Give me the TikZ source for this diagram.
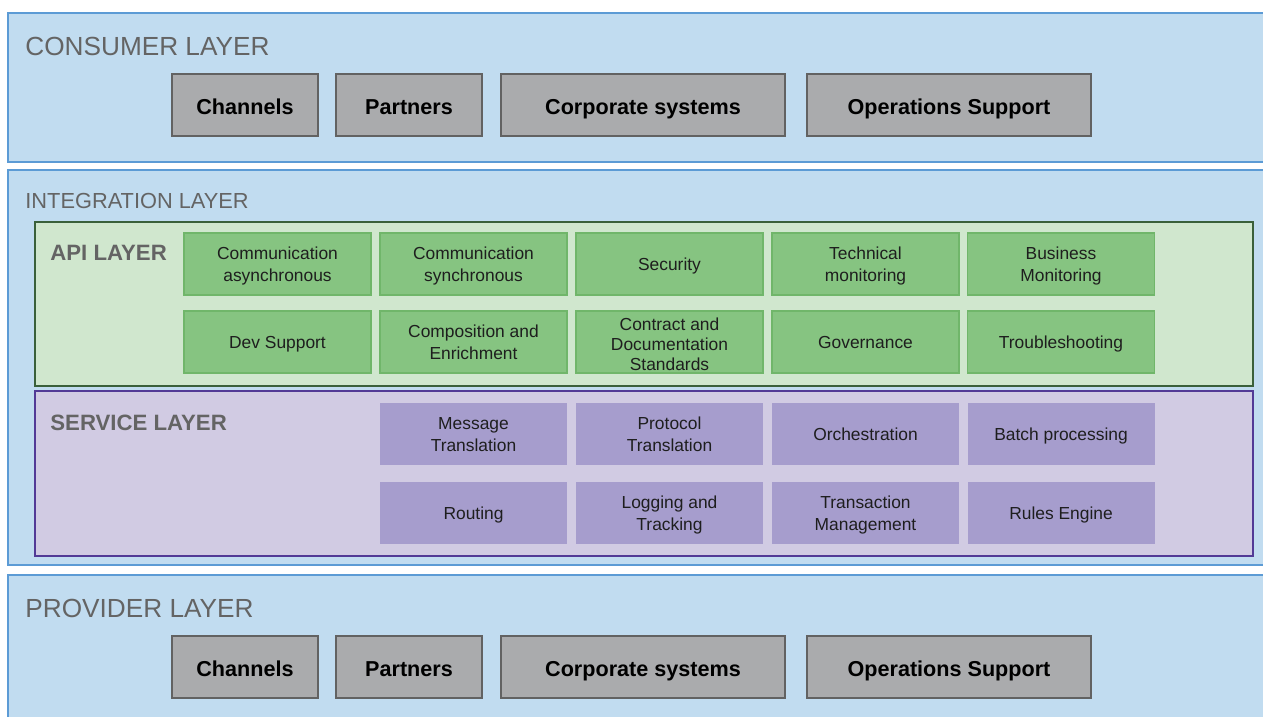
\documentclass[tikz,border=0pt]{standalone}
\usepackage{fontspec}
\setmainfont{Liberation Sans}
\usepackage{tikz}
\pgfdeclarelayer{panellayer}
\pgfdeclarelayer{nodelayer}
\pgfsetlayers{panellayer,nodelayer,main}
\definecolor{panelblue}{RGB}{193,220,240}
\definecolor{edgeblue}{RGB}{92,155,213}
\definecolor{apifill}{RGB}{208,231,206}
\definecolor{apiedge}{RGB}{58,96,58}
\definecolor{greenbox}{RGB}{134,196,129}
\definecolor{greenedge}{RGB}{112,182,106}
\definecolor{svcfill}{RGB}{209,203,227}
\definecolor{svcedge}{RGB}{82,58,150}
\definecolor{purplebox}{RGB}{166,157,205}
\definecolor{graybox}{RGB}{170,171,173}
\definecolor{grayedge}{RGB}{98,98,98}
\definecolor{headgray}{RGB}{100,100,100}
\definecolor{boxtext}{RGB}{30,30,30}
% fixed line height so one and two line labels sit alike
\newcommand{\blockstrut}{\rule[-1.9pt]{0pt}{10.4pt}}
\tikzstyle{layer_panel}=[fill=panelblue,draw=edgeblue,line width=1pt]
\tikzstyle{api_panel}=[fill=apifill,draw=apiedge,line width=1pt]
\tikzstyle{service_panel}=[fill=svcfill,draw=svcedge,line width=1pt]
\tikzstyle{layer_title}=[anchor=west,inner sep=0pt,text=headgray,font=\fontsize{13.1}{15}\selectfont]
\tikzstyle{sub_title}=[anchor=west,inner sep=0pt,text=headgray,font=\fontsize{11.1}{13}\selectfont\bfseries]
\tikzstyle{system}=[rectangle,fill=graybox,draw=grayedge,line width=0.8pt,minimum height=31pt,text height=9.2pt,text depth=0pt,text=black,font=\fontsize{10.8}{13}\selectfont\bfseries]
\tikzstyle{api_block}=[rectangle,fill=greenbox,draw=greenedge,line width=0.6pt,minimum width=93.5pt,minimum height=31pt,inner ysep=0pt,align=center,text=boxtext,font=\fontsize{8.7}{11}\selectfont]
\tikzstyle{service_block}=[rectangle,fill=purplebox,minimum width=93.5pt,minimum height=31pt,inner ysep=0pt,align=center,text=boxtext,font=\fontsize{8.7}{11}\selectfont]

\begin{document}
\begin{tikzpicture}[x=0.5pt,y=-0.5pt]
	\clip (0,0) rectangle (1263,717);
	\begin{pgfonlayer}{panellayer}
		\fill[white] (0,0) rectangle (1263,717);
		\draw [style=layer_panel] (8,13) rectangle (1280,162);
		\draw [style=layer_panel] (8,170) rectangle (1280,565);
		\draw [style=layer_panel] (8,575) rectangle (1280,730);
		\draw [style=api_panel] (35,222) rectangle (1253,386);
		\draw [style=service_panel] (35,391) rectangle (1253,556);
	\end{pgfonlayer}
	\begin{pgfonlayer}{nodelayer}
		\node [style=layer_title] (consumer) at (25,46.5) {CONSUMER LAYER};
		\node [style=layer_title,font=\fontsize{10.9}{13}\selectfont] (integration) at (25,200.5) {INTEGRATION LAYER};
		\node [style=sub_title] (api) at (50,252.5) {API LAYER};
		\node [style=sub_title] (service) at (50,422.5) {SERVICE LAYER};
		\node [style=layer_title] (provider) at (25,608.5) {PROVIDER LAYER};

		% consumer systems
		\node [style=system,minimum width=73pt] (c1) at (245,105) {Channels};
		\node [style=system,minimum width=73pt] (c2) at (409,105) {Partners};
		\node [style=system,minimum width=142pt] (c3) at (643,105) {Corporate systems};
		\node [style=system,minimum width=142pt] (c4) at (949,105) {Operations Support};

		% api blocks
		\node [style=api_block] (a1) at (277.5,264) {\blockstrut Communication\\asynchronous\blockstrut};
		\node [style=api_block] (a2) at (473.5,264) {\blockstrut Communication\\synchronous\blockstrut};
		\node [style=api_block] (a3) at (669.5,264) {\blockstrut Security\blockstrut};
		\node [style=api_block] (a4) at (865.5,264) {\blockstrut Technical\\monitoring\blockstrut};
		\node [style=api_block] (a5) at (1061,264) {\blockstrut Business\\Monitoring\blockstrut};
		\node [style=api_block] (a6) at (277.5,342) {\blockstrut Dev Support\blockstrut};
		\node [style=api_block] (a7) at (473.5,342) {\blockstrut Composition and\\Enrichment\blockstrut};
		\node [style=api_block,font=\fontsize{8.7}{10.2}\selectfont] (a8) at (669.5,342) {\blockstrut Contract and\\Documentation\\Standards};
		\node [style=api_block] (a9) at (865.5,342) {\blockstrut Governance\blockstrut};
		\node [style=api_block] (a10) at (1061,342) {\blockstrut Troubleshooting\blockstrut};

		% service blocks
		\node [style=service_block] (s1) at (473.5,434) {\blockstrut Message\\Translation\blockstrut};
		\node [style=service_block] (s2) at (669.5,434) {\blockstrut Protocol\\Translation\blockstrut};
		\node [style=service_block] (s3) at (865.5,434) {\blockstrut Orchestration\blockstrut};
		\node [style=service_block] (s4) at (1061,434) {\blockstrut Batch processing\blockstrut};
		\node [style=service_block] (s5) at (473.5,512.5) {\blockstrut Routing\blockstrut};
		\node [style=service_block] (s6) at (669.5,512.5) {\blockstrut Logging and\\Tracking\blockstrut};
		\node [style=service_block] (s7) at (865.5,512.5) {\blockstrut Transaction\\Management\blockstrut};
		\node [style=service_block] (s8) at (1061,512.5) {\blockstrut Rules Engine\blockstrut};

		% provider systems
		\node [style=system,minimum width=73pt] (p1) at (245,667) {Channels};
		\node [style=system,minimum width=73pt] (p2) at (409,667) {Partners};
		\node [style=system,minimum width=142pt] (p3) at (643,667) {Corporate systems};
		\node [style=system,minimum width=142pt] (p4) at (949,667) {Operations Support};
	\end{pgfonlayer}
\end{tikzpicture}
\end{document}
